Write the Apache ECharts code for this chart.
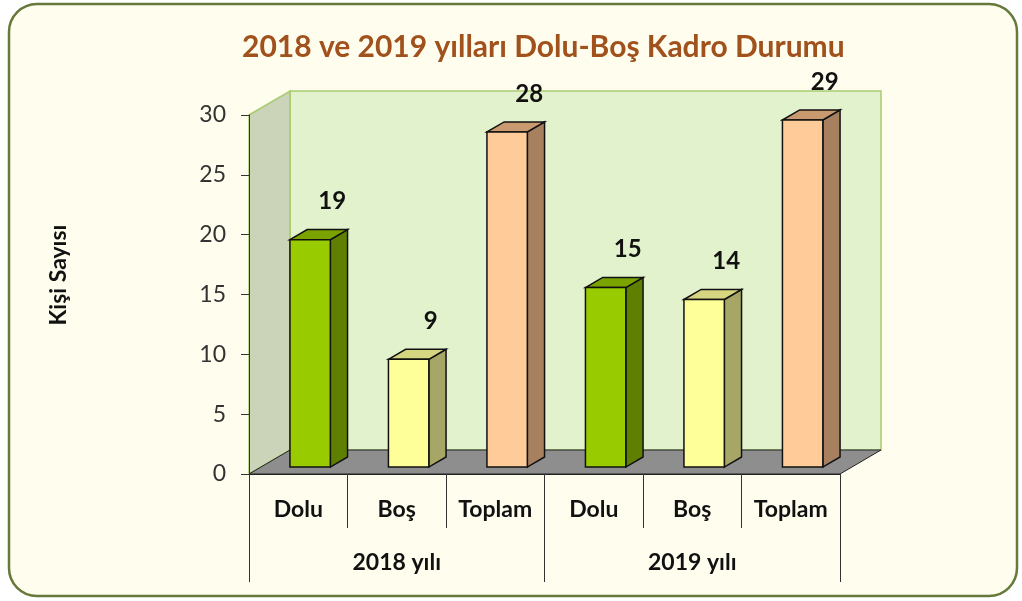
<!DOCTYPE html>
<html lang="tr" style="height: 100%">
<head>
  <meta charset="utf-8">
  <title>2018 ve 2019 yılları Dolu-Boş Kadro Durumu</title>
  <style>
    body { margin: 0; background: #fff; }
    #container { width: 1022px; height: 601px; }
  </style>
</head>
<body style="height: 100%">
  <div id="container"></div>
  <script type="text/javascript" src="https://fastly.jsdelivr.net/npm/echarts@6/dist/echarts.min.js"></script>
  <script type="text/javascript">
    // Veriler
    var kategoriler = ['Dolu', 'Boş', 'Toplam', 'Dolu', 'Boş', 'Toplam'];
    var gruplar = ['2018 yılı', '2019 yılı'];
    var degerler = [19, 9, 28, 15, 14, 29];
    var yEksen = { min: 0, max: 30, interval: 5 };

    // Renkler: ön yüz, yan yüz, üst yüz (Dolu, Boş, Toplam)
    var renkler = [
      ['#99cc00', '#5f7f00', '#7aa300'],
      ['#ffff99', '#a6a666', '#d6d680'],
      ['#ffcc99', '#a6805f', '#c99a70']
    ];

    var FONT = 'Lato, "Open Sans", sans-serif';
    var DX = 41, DY = -24;          // 3B derinlik kayması
    var ON = 0.29, DERIN = 0.42;    // çubuğun derinlik konumu ve kalınlığı

    var dom = document.getElementById('container');
    var myChart = echarts.init(dom, null, { renderer: 'canvas' });

    function duvarlar(params, api) {
      var cs = params.coordSys;
      var x = cs.x, y = cs.y, w = cs.width, h = cs.height, b = y + h;
      return {
        type: 'group',
        children: [
          { type: 'rect', shape: { x: x + DX, y: y + DY, width: w, height: h },
            style: { fill: '#e2f2cc', stroke: '#a8cc70', lineWidth: 1.5 } },
          { type: 'polygon', shape: { points: [[x, y], [x + DX, y + DY], [x + DX, b + DY], [x, b]] },
            style: { fill: '#cbd3b8', stroke: '#a8cc70', lineWidth: 1.5 } },
          { type: 'polygon', shape: { points: [[x, b], [x + DX, b + DY], [x + w + DX, b + DY], [x + w, b]] },
            style: { fill: '#8e8e8e', stroke: '#222', lineWidth: 1 } }
        ]
      };
    }

    function cubuk(params, api) {
      var i = api.value(0), v = api.value(1);
      var band = api.size([1, 0])[0];
      var ust = api.coord([i, v]);
      var alt = api.coord([i, 0]);
      var fdx = DX * ON, fdy = DY * ON;
      var bdx = DX * DERIN, bdy = DY * DERIN;
      var bw = band * 0.41;
      var x0 = ust[0] - bw / 2 + fdx, x1 = x0 + bw;
      var yt = ust[1] + fdy, yb = alt[1] + fdy;
      var c = renkler[i % 3];
      var kenar = { stroke: '#111', lineWidth: 1.5 };
      return {
        type: 'group',
        children: [
          { type: 'polygon', shape: { points: [[x1, yt], [x1 + bdx, yt + bdy], [x1 + bdx, yb + bdy], [x1, yb]] },
            style: Object.assign({ fill: c[1] }, kenar) },
          { type: 'polygon', shape: { points: [[x0, yt], [x0 + bdx, yt + bdy], [x1 + bdx, yt + bdy], [x1, yt]] },
            style: Object.assign({ fill: c[2] }, kenar) },
          { type: 'rect', shape: { x: x0, y: yt, width: bw, height: yb - yt },
            style: Object.assign({ fill: c[0] }, kenar) },
          { type: 'text',
            style: { text: String(v), x: x0 + bw / 2 + 22, y: yt - 38,
              fill: '#111', font: 'bold 24px ' + FONT,
              align: 'center', verticalAlign: 'middle',
              textAlign: 'center', textVerticalAlign: 'middle' } }
        ]
      };
    }

    var option = {
      backgroundColor: '#ffffff',
      animation: false,
      title: {
        text: '2018 ve 2019 yılları Dolu-Boş Kadro Durumu',
        left: 237,
        top: 27,
        textStyle: { color: '#a0511c', fontSize: 30, fontWeight: 'bold', fontFamily: FONT }
      },
      graphic: [
        { type: 'rect', z: -100, shape: { x: 9, y: 4, width: 1008, height: 592, r: 28 },
          style: { fill: '#fffeee', stroke: '#66793a', lineWidth: 2.5 } },
        { type: 'text', x: 59, y: 275, rotation: Math.PI / 2,
          style: { text: 'Kişi Sayısı', fill: '#111', font: 'bold 23px ' + FONT,
            align: 'center', verticalAlign: 'middle',
            textAlign: 'center', textVerticalAlign: 'middle' } }
      ],
      grid: { left: 249, right: 182, top: 115, bottom: 127 },
      xAxis: [
        {
          type: 'category',
          data: kategoriler,
          axisLine: { show: true, lineStyle: { color: '#222', width: 1 } },
          axisTick: { show: true, alignWithLabel: false, length: 54, lineStyle: { color: '#333', width: 1 } },
          axisLabel: { margin: 24, color: '#111', fontSize: 23, fontWeight: 'bold', fontFamily: FONT }
        },
        {
          type: 'category',
          data: gruplar,
          position: 'bottom',
          axisLine: { show: false },
          axisTick: { show: true, alignWithLabel: false, length: 108, lineStyle: { color: '#333', width: 1 } },
          axisLabel: { margin: 77, color: '#111', fontSize: 23, fontWeight: 'bold', fontFamily: FONT }
        }
      ],
      yAxis: {
        type: 'value',
        min: yEksen.min,
        max: yEksen.max,
        interval: yEksen.interval,
        axisLine: { show: true, lineStyle: { color: '#333' } },
        axisTick: { show: true, length: 8, lineStyle: { color: '#333' } },
        axisLabel: { margin: 23, color: '#333', fontSize: 23, fontFamily: FONT },
        splitLine: { show: false }
      },
      series: [
        {
          type: 'custom',
          z: -1,
          silent: true,
          renderItem: duvarlar,
          data: [[0, 0]]
        },
        {
          type: 'custom',
          z: 3,
          renderItem: cubuk,
          encode: { x: 0, y: 1 },
          data: degerler.map(function (d, i) { return [i, d]; })
        }
      ]
    };

    myChart.setOption(option);
    window.addEventListener('resize', myChart.resize);
  </script>
</body>
</html>
